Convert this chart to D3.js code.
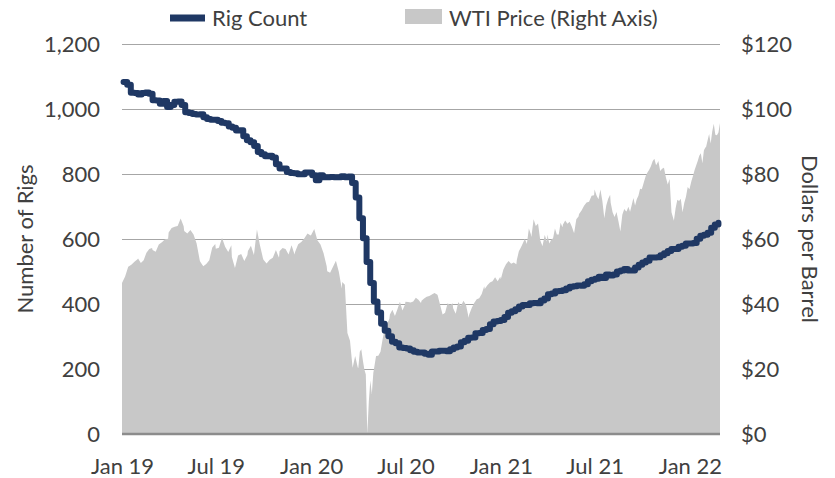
<!DOCTYPE html>
<meta charset="utf-8">
<style>
body { margin: 0; background: #fff; }
svg text { font-family: Lato, "Open Sans", sans-serif; fill: #404040; }
</style>
<script src="https://cdn.jsdelivr.net/npm/d3@7"></script>
<body>
<div id="chart"></div>
<script>
// rig count, weekly (Fridays) from 4 Jan 2019
var rigStart = "2019-01-04";
var rig2019 = [1083, 1075, 1050, 1049, 1045, 1049, 1051, 1047, 1027, 1026, 1016, 1025, 1006,
  1012, 1022, 1023, 1012, 990, 988, 985, 983, 984, 975, 969, 967, 967, 963, 958, 956, 946,
  942, 934, 935, 916, 904, 898, 886, 868, 861, 855, 856, 851, 830, 817, 817, 806, 803, 802,
  799, 799, 805, 805];
var rig2020 = [796, 781, 796, 790, 790, 791, 790, 790, 793, 790, 792, 772, 728, 664, 602, 529,
  465, 408, 374, 339, 318, 301, 284, 279, 266, 265, 263, 258, 253, 251, 251, 247, 244, 254,
  254, 256, 256, 255, 261, 266, 269, 282, 287, 296, 297, 310, 311, 320, 323, 338, 346, 348];
var rig2021 = [351, 360, 373, 378, 384, 392, 397, 397, 402, 403, 402, 411, 417, 430, 432, 439,
  440, 442, 448, 453, 455, 457, 456, 461, 470, 475, 478, 484, 480, 491, 488, 491, 500, 503,
  508, 503, 503, 512, 521, 528, 533, 543, 543, 544, 550, 556, 563, 569, 569, 576, 579, 586, 586];
var rig2022 = [588, 601, 610, 613, 619, 635, 645, 650];

// WTI spot price, readings through each month
var wtiStart = "2019-01";
var wti2019 = [
  [46.5, 48.5, 51.5, 52.1, 53.0, 53.8],
  [54.0, 52.6, 53.5, 55.8, 56.9, 57.2],
  [56.6, 56.1, 58.3, 59.0, 59.9, 60.1],
  [62.0, 63.4, 63.8, 64.0, 66.3, 63.9],
  [62.5, 61.7, 62.8, 61.4, 58.6, 53.5],
  [53.0, 51.6, 52.3, 53.5, 57.4, 58.5],
  [57.0, 57.3, 60.4, 57.6, 56.0, 58.1],
  [54.5, 51.1, 54.9, 55.4, 53.2, 55.1],
  [56.3, 57.9, 55.1, 62.9, 58.1, 54.1],
  [53.6, 52.5, 53.6, 54.2, 56.6, 54.2],
  [56.2, 57.2, 56.9, 55.2, 58.1, 55.2],
  [56.0, 58.4, 59.1, 60.2, 61.7, 61.1]
];
var wti2020 = [
  [61.2, 63.1, 59.6, 58.3, 55.6, 51.6],
  [50.1, 49.6, 51.5, 53.3, 49.9, 44.8],
  [46.8, 45.9, 31.1, 28.7, 20.4, 24.0, 20.5],
  [20.3, 25.3, 26.1, 22.8, 19.9, 18.3, -37.6, 10.0, 16.5, 12.3, 18.8],
  [19.8, 24.0, 24.1, 25.3, 29.4, 32.5, 33.9, 35.5],
  [36.8, 38.2, 36.3, 38.4, 40.7, 38.0, 39.8],
  [40.7, 40.6, 40.5, 40.8, 41.9, 41.3, 40.3],
  [41.0, 41.7, 42.2, 42.5, 42.9, 43.4, 42.9],
  [42.8, 39.8, 36.8, 37.3, 40.2, 39.6, 40.2],
  [38.7, 37.0, 40.6, 39.4, 41.0, 39.6, 35.8],
  [36.8, 38.8, 40.3, 41.5, 41.8, 43.1, 45.5],
  [44.6, 45.8, 46.6, 47.0, 48.2, 47.0, 48.4]
];
var wti2021 = [
  [47.6, 50.6, 52.2, 53.2, 52.4, 52.8, 52.2],
  [53.6, 56.2, 57.4, 58.7, 60.1, 58.5, 63.2, 61.5],
  [60.6, 66.1, 64.0, 64.8, 59.6, 57.8, 61.2, 59.2],
  [61.4, 58.6, 59.8, 60.2, 63.2, 61.4, 61.4, 65.0, 63.6],
  [64.5, 65.7, 64.7, 65.3, 63.8, 61.8, 66.1, 66.9],
  [67.7, 68.8, 70.2, 71.2, 71.5, 73.3, 73.5],
  [75.2, 73.4, 72.2, 75.2, 71.7, 66.4, 70.3, 72.4, 73.6],
  [71.2, 68.2, 66.8, 68.3, 65.5, 62.3, 67.5, 69.2, 68.5],
  [68.6, 69.9, 68.4, 70.5, 72.6, 70.3, 72.2, 73.3, 75.5, 75.3],
  [75.8, 77.6, 79.4, 80.5, 81.3, 82.4, 83.9, 84.7, 82.7, 83.6],
  [84.0, 80.9, 81.6, 81.9, 79.0, 76.8, 78.5, 68.2, 66.2],
  [65.6, 69.5, 72.1, 71.7, 72.4, 68.2, 71.1, 73.0, 76.0, 75.3]
];
var wti2022 = [
  [75.9, 77.9, 79.5, 81.2, 82.6, 84.0, 85.6, 86.4, 83.3, 87.3, 88.2],
  [88.2, 90.3, 92.3, 89.4, 93.1, 95.5, 92.1, 91.9, 92.8, 95.7]
];

var rigTicks = [0, 200, 400, 600, 800, 1000, 1200];
var priceTicks = [0, 20, 40, 60, 80, 100, 120];
var dateTicks = ["2019-01-01", "2019-07-01", "2020-01-01", "2020-07-01",
  "2021-01-01", "2021-07-01", "2022-01-01"];
var xDomain = ["2019-01-01", "2022-02-28"];

var parseDay = d3.timeParse("%Y-%m-%d"),
    parseMonth = d3.timeParse("%Y-%m");

var width = 835, height = 478;
var plotL = 122, plotR = 720, plotT = 44, plotB = 434;

var rigData = rig2019.concat(rig2020, rig2021, rig2022).map(function(v, i) {
  return { date: d3.timeDay.offset(parseDay(rigStart), i * 7), value: v };
});

var wtiData = [];
wti2019.concat(wti2020, wti2021, wti2022).forEach(function(month, m) {
  var m0 = d3.timeMonth.offset(parseMonth(wtiStart), m),
      len = d3.timeDay.count(m0, d3.timeMonth.offset(m0, 1)) - 1;
  month.forEach(function(v, i) {
    var d = new Date(m0.getTime() + (i / (month.length - 1)) * len * 864e5);
    wtiData.push({ date: d, value: v });
  });
});

var x = d3.scaleTime().domain(xDomain.map(parseDay)).range([plotL, plotR]);
var yRig = d3.scaleLinear().domain([0, 1200]).range([plotB, plotT]);
var yWti = d3.scaleLinear().domain([0, 120]).range([plotB, plotT]).clamp(true);

var svg = d3.select("#chart").append("svg")
    .attr("width", width)
    .attr("height", height);

// gridlines
svg.append("g")
  .selectAll("line")
  .data(rigTicks.filter(function(d) { return d > 0; }))
  .enter().append("line")
    .attr("x1", plotL).attr("x2", plotR)
    .attr("y1", function(d) { return yRig(d) + 0.5; })
    .attr("y2", function(d) { return yRig(d) + 0.5; })
    .attr("stroke", "#a6a6a6")
    .attr("stroke-width", 1);

// WTI area
var area = d3.area()
    .x(function(d) { return x(d.date); })
    .y0(plotB)
    .y1(function(d) { return yWti(d.value); });

svg.append("path")
    .datum(wtiData)
    .attr("fill", "#c8c8c8")
    .attr("d", area);

// zero line
svg.append("line")
    .attr("x1", plotL).attr("x2", plotR)
    .attr("y1", plotB).attr("y2", plotB)
    .attr("stroke", "#8c8c8c")
    .attr("stroke-width", 2.5);

// rig count line
var line = d3.line()
    .curve(d3.curveStepAfter)
    .x(function(d) { return x(d.date); })
    .y(function(d) { return yRig(d.value); });

svg.append("path")
    .datum(rigData)
    .attr("fill", "none")
    .attr("stroke", "#1f3864")
    .attr("stroke-width", 6)
    .attr("stroke-linejoin", "round")
    .attr("stroke-linecap", "round")
    .attr("d", line);

// axes
var fs = "22px";
var axisL = svg.append("g")
    .attr("transform", "translate(" + (plotL - 22) + ",0)")
    .call(d3.axisLeft(yRig).tickValues(rigTicks).tickSize(0).tickFormat(d3.format(",")));
var axisR = svg.append("g")
    .attr("transform", "translate(" + (plotR + 21) + ",0)")
    .call(d3.axisRight(yWti).tickValues(priceTicks).tickSize(0).tickFormat(function(d) { return "$" + d; }));
var axisB = svg.append("g")
    .attr("transform", "translate(0," + (plotB + 24) + ")")
    .call(d3.axisBottom(x).tickValues(dateTicks.map(parseDay)).tickSize(0).tickFormat(d3.timeFormat("%b %y")));

[axisL, axisR, axisB].forEach(function(a) {
  a.select(".domain").remove();
  a.selectAll("text")
    .attr("font-family", null)
    .style("font-size", fs)
    .style("fill", "#404040");
});
axisL.selectAll("text").attr("x", 0);
axisR.selectAll("text").attr("x", 0);
axisB.selectAll("text").attr("y", 0).attr("dy", "0.71em");

// axis titles
svg.append("text")
    .attr("transform", "translate(33," + ((plotT + plotB) / 2) + ") rotate(-90)")
    .attr("text-anchor", "middle")
    .style("font-size", fs)
    .text("Number of Rigs");

svg.append("text")
    .attr("transform", "translate(802," + ((plotT + plotB) / 2) + ") rotate(90)")
    .attr("text-anchor", "middle")
    .style("font-size", fs)
    .text("Dollars per Barrel");

// legend
var legend = svg.append("g");
legend.append("line")
    .attr("x1", 170).attr("x2", 205)
    .attr("y1", 18).attr("y2", 18)
    .attr("stroke", "#1f3864")
    .attr("stroke-width", 7);
legend.append("text")
    .attr("x", 212).attr("y", 26)
    .style("font-size", fs)
    .text("Rig Count");
legend.append("rect")
    .attr("x", 405).attr("y", 9)
    .attr("width", 37).attr("height", 15)
    .attr("fill", "#c8c8c8");
legend.append("text")
    .attr("x", 449).attr("y", 26)
    .style("font-size", fs)
    .text("WTI Price (Right Axis)");
</script>
</body>
